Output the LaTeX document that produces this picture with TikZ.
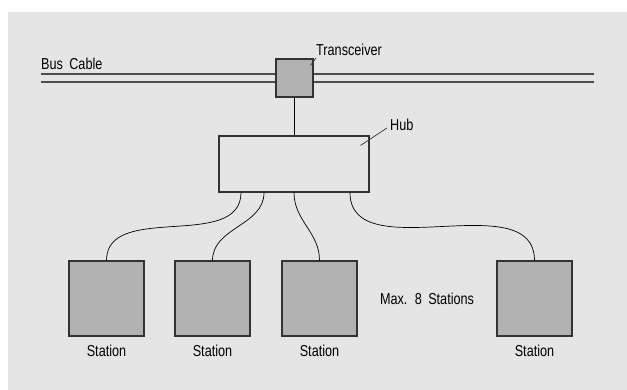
\documentclass[tikz,border=0pt]{standalone}
\usepackage{fontspec}
\setmainfont{Liberation Sans}[FakeStretch=0.80,WordSpace=1.8]
\definecolor{panelgray}{gray}{0.90}
\definecolor{boxgray}{gray}{0.70}
\definecolor{edgegray}{gray}{0.20}
\definecolor{cablegray}{gray}{0.30}
\usepackage{tikz}
\usetikzlibrary{positioning,calc}
\tikzset{
  cable/.style={cablegray,line width=1.2pt},
  stbox/.style={draw=edgegray,fill=boxgray,line width=0.9pt,minimum width=2.25cm,minimum height=2.25cm,inner sep=0pt},
  trxbox/.style={draw=edgegray,fill=boxgray,line width=0.9pt,minimum width=1.11cm,minimum height=1.14cm,inner sep=0pt},
  hubbox/.style={draw=edgegray,line width=0.9pt,minimum width=4.5cm,minimum height=1.68cm,inner sep=0pt},
  wire/.style={black,line width=0.6pt},
  leader/.style={edgegray,line width=0.6pt},
  tlab/.style={font=\fontsize{13.5}{15}\selectfont,inner sep=0pt},
}
\begin{document}
\begin{tikzpicture}
  \useasboundingbox (0,0) rectangle (18.81,11.7);
  \fill[panelgray] (0.24,0) rectangle (18.81,11.34);
  % bus cable, two wires
  \coordinate (busLa) at (1.23,9.48); \coordinate (busRa) at (17.82,9.48);
  \coordinate (busLb) at (1.23,9.24); \coordinate (busRb) at (17.82,9.24);
  \draw[cable] (busLa) -- (busRa);
  \draw[cable] (busLb) -- (busRb);
  \node[tlab,anchor=base west] (buslbl) at (1.23,9.6) {Bus Cable};
  % transceiver sits on the cable
  \node[trxbox] (trx) at (8.835,9.36) {};
  \node[tlab,anchor=base west] (trxlbl) at (9.48,10.02) {Transceiver};
  \draw[leader] ($(trxlbl.base west)+(0,-0.06)$) -- ($(trx.north east)+(-0.09,-0.21)$);
  % hub
  \node[hubbox] (hub) at (8.82,6.78) {};
  \node[tlab,anchor=base west] (hublbl) at (11.7,7.77) {Hub};
  \draw[leader] ($(hublbl.base west)+(-0.09,0.09)$) -- ($(hub.north east)+(-0.27,-0.30)$);
  \draw[wire] (trx.south) -- (trx.south |- hub.north);
  % stations
  \node[stbox] (st1) at (3.195,2.745) {};
  \node[stbox] (st2) at (6.375,2.745) {};
  \node[stbox] (st3) at (9.585,2.745) {};
  \node[stbox] (st4) at (16.035,2.745) {};
  \foreach \s in {1,...,4} \node[tlab,below=0.24cm of st\s] (lbl\s) {Station};
  \node[tlab] (maxlbl) at ($(st3)!0.5!(st4)$) {Max. 8 Stations};
  % drop cables hub -> stations
  \draw[wire] ([xshift=-1.59cm]hub.south) to[out=-90,in=90] (st1.north);
  \draw[wire] ([xshift=-0.9cm]hub.south) to[out=-90,in=90] (st2.north);
  \draw[wire] (hub.south) to[out=-90,in=90] (st3.north);
  \draw[wire] ([xshift=1.68cm]hub.south) to[out=-90,in=90] (st4.north);
\end{tikzpicture}
\end{document}
